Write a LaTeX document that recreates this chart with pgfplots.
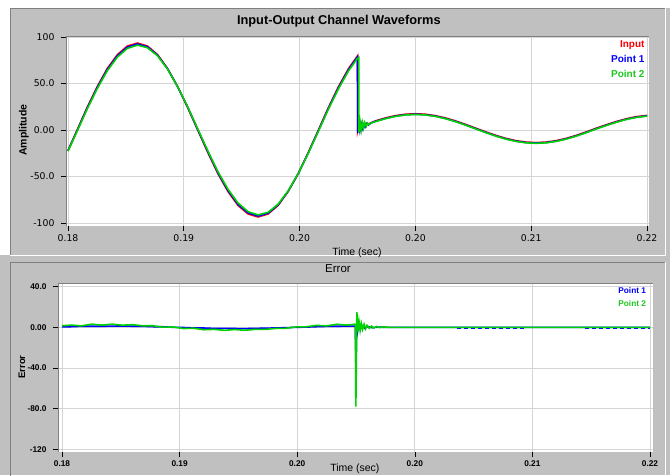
\documentclass[border=0pt]{standalone}
\usepackage{fontspec}
\setmainfont{Liberation Sans}
\newfontfamily\dejavu{DejaVu Sans}
\usepackage{pgfplots}
\pgfplotsset{compat=1.18}
\definecolor{panelgray}{RGB}{192,192,192}
\definecolor{gridgray}{RGB}{212,212,212}
\definecolor{edgegray}{RGB}{128,128,128}
\definecolor{cred}{RGB}{255,0,0}
\definecolor{cblue}{RGB}{0,0,255}
\definecolor{cgreen}{RGB}{0,210,0}
\definecolor{tgreen}{RGB}{30,200,30}
\pgfplotsset{
  chartbase/.style={
    scale only axis, anchor=south west,
    axis background/.style={fill=white},
    axis line style={draw=none},
    grid=major, major grid style={draw=gridgray, line width=0.9pt},
    tick align=outside, xtick pos=bottom, ytick pos=left,
    major tick length=5pt,
    tick style={draw=black, line width=0.6pt},
    xtick={0.18,0.188,0.196,0.204,0.212,0.22},
    xticklabels={0.18,0.19,0.20,0.20,0.21,0.22},
    legend cell align=right,
    legend image code/.code={},
    after end axis/.code={\draw[edgegray, line width=0.8pt] (rel axis cs:0,0) -- (rel axis cs:0,1) -- (rel axis cs:1,1);},
  },
}
\begin{document}
\begin{tikzpicture}[x=1pt,y=1pt]
\path[use as bounding box] (0,0) rectangle (670,475);
\clip (0,0) rectangle (670,475);
\fill[panelgray] (0,0) rectangle (670,475);
\fill[white] (0,467) rectangle (670,475);
\fill[white] (0,220) rectangle (10,475);
% panel frames
\draw[edgegray, line width=0.8pt] (10,220) -- (10,467) -- (665,467);
\draw[white, line width=0.8pt] (10,220) -- (665,220) -- (665,467);
\draw[edgegray, line width=0.8pt] (10,-5) -- (10,213) -- (665,213);
\draw[white, line width=0.8pt] (665,-5) -- (665,213);

% ---------------- top chart
\begin{axis}[chartbase,
  at={(66pt,249pt)}, width=583pt, height=190pt,
  xmin=0.179862, xmax=0.220138, ymin=-103.2, ymax=101.1,
  ytick={-100,-50,0,50,100}, yticklabels={-100,-50.0,0.00,50.0,100},
  xticklabel style={font=\dejavu\fontsize{9.3}{10}\selectfont},
  yticklabel style={font=\dejavu\fontsize{9.3}{10}\selectfont, xshift=-3pt},
  title={Input-Output Channel Waveforms},
  title style={font=\bfseries\fontsize{12.8}{14}\selectfont, at={(axis description cs:0.468,1.047)}, anchor=center},
  xlabel={Time (sec)},
  xlabel style={font=\fontsize{10.5}{12}\selectfont, at={(axis description cs:0.499,-0.1425)}, anchor=center},
  ylabel={Amplitude},
  ylabel style={font=\bfseries\fontsize{10.5}{12}\selectfont, at={(axis description cs:-0.072,0.505)}, anchor=center, rotate=0},
  legend style={draw=none, fill=none, at={(rel axis cs:0.996,0.985)}, anchor=north east,
    font=\bfseries\fontsize{10}{12}\selectfont, row sep=2.2pt, inner sep=0pt, cells={anchor=east}},
]
\addplot[cred, line width=1.6pt] coordinates {
(0.18000,-22.0)(0.18063,0)(0.18132,24.2)(0.18202,46.75)(0.18271,66.1)(0.18341,81.0)(0.18410,90.3)(0.18480,93.5)(0.18549,90.3)(0.18619,81.0)(0.18688,66.1)(0.18757,46.75)(0.18827,24.2)(0.18896,0)(0.18966,-24.2)(0.19035,-46.75)(0.19105,-66.1)(0.19174,-81.0)(0.19244,-90.3)(0.19313,-93.5)(0.19382,-90.3)(0.19452,-81.0)(0.19521,-66.1)(0.19591,-46.75)(0.19660,-24.2)(0.19730,0)(0.19799,24.2)(0.19869,46.75)(0.19938,66.1)(0.20000,79.7)
(0.20001,-1)(0.20010,5)(0.20020,2)(0.20030,7)(0.20040,4)(0.20055,7)(0.20075,6.5)(0.20095,7.8)
(0.201222,9.75)(0.201917,12.96)(0.202611,15.42)(0.203306,16.97)(0.204000,17.5)(0.204694,16.97)(0.205389,15.42)(0.206083,12.96)(0.206778,9.75)(0.207472,6.01)(0.208167,2.0)(0.208861,-2.01)(0.209556,-5.75)(0.210250,-8.96)(0.210944,-11.42)(0.211639,-12.97)(0.212333,-13.5)(0.213028,-12.97)(0.213722,-11.42)(0.214417,-8.96)(0.215111,-5.75)(0.215806,-2.01)(0.216500,2.0)(0.217194,5.7)(0.217889,9.2)(0.218583,12.2)(0.219278,14.4)(0.219972,15.7)(0.22,15.7)};
\addlegendentry{\textcolor{cred}{Input}}
\addplot[cblue, line width=1.6pt] coordinates {
(0.18000,-22.3)(0.18063,-0.6)(0.18132,23.35)(0.18202,45.7)(0.18271,64.9)(0.18341,79.8)(0.18410,89.1)(0.18480,92.5)(0.18549,89.45)(0.18619,80.4)(0.18688,65.8)(0.18757,46.75)(0.18827,24.5)(0.18896,0.6)(0.18966,-23.35)(0.19035,-45.7)(0.19105,-64.9)(0.19174,-79.8)(0.19244,-89.1)(0.19313,-92.5)(0.19382,-89.45)(0.19452,-80.4)(0.19521,-65.8)(0.19591,-46.75)(0.19660,-24.5)(0.19730,-0.6)(0.19799,23.35)(0.19869,45.7)(0.19938,64.9)(0.20000,78.5)
(0.20001,-3)(0.20008,6)(0.20016,-1)(0.20024,7)(0.20032,1)(0.20042,6)(0.20052,3)(0.20064,7)(0.20076,5.5)(0.20095,7.8)
(0.201222,9.25)(0.201917,12.46)(0.202611,14.92)(0.203306,16.47)(0.204000,17.0)(0.204694,16.47)(0.205389,14.92)(0.206083,12.46)(0.206778,9.25)(0.207472,5.51)(0.208167,1.5)(0.208861,-2.51)(0.209556,-6.25)(0.210250,-9.46)(0.210944,-11.92)(0.211639,-13.47)(0.212333,-14.0)(0.213028,-13.47)(0.213722,-11.92)(0.214417,-9.46)(0.215111,-6.25)(0.215806,-2.51)(0.216500,1.5)(0.217194,5.2)(0.217889,8.7)(0.218583,11.7)(0.219278,13.9)(0.219972,15.2)(0.22,15.2)};
\addlegendentry{\textcolor{cblue}{Point 1}}
\addplot[cgreen, line width=1.6pt] coordinates {
(0.18000,-22.7)(0.18063,-1.3)(0.18132,22.4)(0.18202,44.5)(0.18271,63.6)(0.18341,78.4)(0.18410,87.8)(0.18480,91.25)(0.18549,88.5)(0.18619,79.7)(0.18688,65.4)(0.18757,46.75)(0.18827,24.9)(0.18896,1.3)(0.18966,-22.4)(0.19035,-44.5)(0.19105,-63.6)(0.19174,-78.4)(0.19244,-87.8)(0.19313,-91.25)(0.19382,-88.5)(0.19452,-79.7)(0.19521,-65.4)(0.19591,-46.75)(0.19660,-24.9)(0.19730,-1.3)(0.19799,22.4)(0.19869,44.5)(0.19938,63.6)(0.20000,77.1)(0.20009,77.9)
(0.20010,-2.5)(0.20018,9)(0.20026,0)(0.20034,8)(0.20042,2)(0.20050,8)(0.20060,4)(0.20070,7.5)(0.20080,6)(0.20095,7.6)
(0.201222,8.95)(0.201917,12.16)(0.202611,14.62)(0.203306,16.17)(0.204000,16.7)(0.204694,16.17)(0.205389,14.62)(0.206083,12.16)(0.206778,8.95)(0.207472,5.21)(0.208167,1.2)(0.208861,-2.81)(0.209556,-6.55)(0.210250,-9.76)(0.210944,-12.22)(0.211639,-13.77)(0.212333,-14.3)(0.213028,-13.77)(0.213722,-12.22)(0.214417,-9.76)(0.215111,-6.55)(0.215806,-2.81)(0.216500,1.2)(0.217194,4.9)(0.217889,8.4)(0.218583,11.4)(0.219278,13.6)(0.219972,14.9)(0.22,14.9)};
\addlegendentry{\textcolor{tgreen}{Point 2}}
\end{axis}

% ---------------- error chart
\begin{axis}[chartbase,
  at={(58pt,23pt)}, width=595pt, height=169pt,
  xmin=0.179728, xmax=0.220204, ymin=-122.7, ymax=43.6,
  ytick={-120,-80,-40,0,40}, yticklabels={-120,-80.0,-40.0,0.00,40.0},
  xticklabel style={font=\bfseries\fontsize{8.3}{10}\selectfont},
  yticklabel style={font=\bfseries\fontsize{8.3}{10}\selectfont, xshift=-3pt},
  title={Error},
  title style={font=\fontsize{11.5}{13}\selectfont, at={(axis description cs:0.4706,1.048)}, anchor=center},
  xlabel={Time (sec)},
  xlabel style={font=\fontsize{10.5}{12}\selectfont, at={(axis description cs:0.499,-0.1006)}, anchor=center},
  ylabel={Error},
  ylabel style={font=\bfseries\fontsize{9.5}{11}\selectfont, at={(axis description cs:-0.0605,0.503)}, anchor=center},
  legend style={draw=none, fill=none, at={(rel axis cs:0.992,0.985)}, anchor=north east,
    font=\bfseries\fontsize{8.3}{10}\selectfont, row sep=1.5pt, inner sep=0pt, cells={anchor=east}},
]
\addplot[cblue, line width=1.6pt] coordinates {
(0.18000,0.5)(0.18063,0.6)(0.18132,1.0)(0.18202,1.04)(0.18271,1.0)(0.18341,1.2)(0.18410,1.3)(0.18480,1.04)(0.18549,1.0)(0.18619,0.6)(0.18688,0.5)(0.18757,0)(0.18827,-0.2)(0.18896,-0.6)(0.18966,-0.7)(0.19035,-1.1)(0.19105,-1.0)(0.19174,-1.2)(0.19244,-1.3)(0.19313,-1.04)(0.19382,-0.9)(0.19452,-0.6)(0.19521,-0.4)(0.19591,0)(0.19660,0.2)(0.19730,0.6)(0.19799,0.9)(0.19869,1.04)(0.19938,1.16)(0.19990,1.2)(0.19996,1.0)(0.19999,-40)(0.20006,8)(0.20012,-3)(0.20020,4)(0.20030,-2)(0.20040,2)(0.20060,-1)(0.20080,0.8)(0.20110,-0.4)(0.20150,0.2)(0.20200,0)(0.22,0)};
\addlegendentry{\textcolor{cblue}{Point 1}}
\addplot[cblue, line width=1.6pt, dash pattern=on 4pt off 3pt, forget plot] coordinates {(0.2069,-1.3)(0.2115,-1.3)};
\addplot[cblue, line width=1.6pt, dash pattern=on 4pt off 3pt, forget plot] coordinates {(0.2156,-1.3)(0.2200,-1.3)};
\addplot[cgreen, line width=1.6pt] coordinates {
(0.18000,1.5)(0.18063,2.2)(0.18132,1.4)(0.18202,3.1)(0.18271,2.2)(0.18341,3.1)(0.18410,2.1)(0.18480,2.6)(0.18549,1.5)(0.18619,1.5)(0.18688,0.1)(0.18757,0.3)(0.18827,-1.2)(0.18896,-0.9)(0.18966,-2.4)(0.19035,-2.0)(0.19105,-3.0)(0.19174,-2.2)(0.19244,-2.9)(0.19313,-2.0)(0.19382,-2.1)(0.19452,-1.1)(0.19521,-1.0)(0.19591,0.4)(0.19660,0.5)(0.19730,1.9)(0.19799,1.4)(0.19869,3.0)(0.19938,2.2)(0.19990,3.0)(0.19996,2.5)(0.19999,-78)(0.20006,15)(0.20012,-4)(0.20020,6)(0.20028,-3)(0.20036,4)(0.20045,-2)(0.20055,3)(0.20065,-1.5)(0.20075,2)(0.20090,-1)(0.20105,1.2)(0.20120,-0.6)(0.20140,0.8)(0.20160,-0.3)(0.20190,0.4)(0.20220,0)(0.22,0)};
\addlegendentry{\textcolor{tgreen}{Point 2}}
\end{axis}
\end{tikzpicture}
\end{document}
